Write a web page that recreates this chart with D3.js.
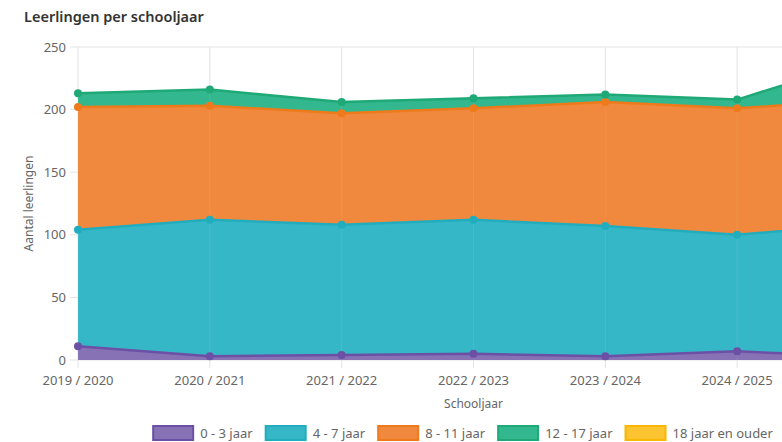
<!DOCTYPE html>
<html>
<head>
<meta charset="utf-8">
<script src="https://cdn.jsdelivr.net/npm/d3@7"></script>
<style>
  html, body { margin: 0; padding: 0; overflow: hidden; background: #fff; }
  text { font-family: "Noto Sans", "Open Sans", sans-serif; }
</style>
</head>
<body>
<script>
// schooljaren (the last one falls outside the window in the original)
let jaren = ["2019 / 2020", "2020 / 2021", "2021 / 2022", "2022 / 2023", "2023 / 2024", "2024 / 2025", "2025 / 2026"];

let groepen = ["0 - 3 jaar", "4 - 7 jaar", "8 - 11 jaar", "12 - 17 jaar", "18 jaar en ouder"];

// aantal leerlingen per leeftijdsgroep
let jaar0tot3 = [11, 3, 4, 5, 3, 7, 2];
let jaar4tot7 = [93, 109, 104, 107, 104, 93, 107];
let jaar8tot11 = [98, 91, 89, 89, 99, 101, 99];
let jaar12tot17 = [11, 13, 9, 8, 6, 7, 33];
let jaar18plus = [0, 0, 0, 0, 0, 0, 0];

let yTicks = [0, 50, 100, 150, 200, 250];

let fillKleuren = ["#8672b4", "#36b7c7", "#f0893d", "#33b78f", "#fcc431"];
let lijnKleuren = ["#6c50a5", "#22adbe", "#ee7a1c", "#1ea976", "#f8b700"];

let width = 925;
let height = 442;
let marges = { top: 47, right: 56, bottom: 82, left: 78 };

let svg = d3.select("body").append("svg")
    .attr("width", width)
    .attr("height", height);

// titel
svg.append("text")
    .attr("x", 24)
    .attr("y", 22)
    .style("font-size", "14.5px")
    .style("font-weight", 600)
    .style("fill", "#333")
    .text("Leerlingen per schooljaar");

let tabel = jaren.map((j, i) => ({
    jaar: j,
    "0 - 3 jaar": jaar0tot3[i],
    "4 - 7 jaar": jaar4tot7[i],
    "8 - 11 jaar": jaar8tot11[i],
    "12 - 17 jaar": jaar12tot17[i],
    "18 jaar en ouder": jaar18plus[i]
}));

let x = d3.scalePoint()
    .domain(jaren)
    .range([marges.left, width - marges.right]);

let y = d3.scaleLinear()
    .domain([0, 250])
    .range([height - marges.bottom, marges.top]);

// rasterlijnen
function tekenRaster(g, alleenVerticaal) {
    if (!alleenVerticaal) {
        g.selectAll("line.h")
            .data(yTicks)
            .enter()
            .append("line")
            .attr("class", "h")
            .attr("x1", marges.left - 8)
            .attr("x2", width - marges.right)
            .attr("y1", d => y(d))
            .attr("y2", d => y(d))
            .attr("stroke", "#e4e4e4");
    }
    g.selectAll("line.v")
        .data(jaren)
        .enter()
        .append("line")
        .attr("class", "v")
        .attr("x1", d => x(d))
        .attr("x2", d => x(d))
        .attr("y1", marges.top)
        .attr("y2", height - marges.bottom + 8)
        .attr("stroke", "#e4e4e4");
}
tekenRaster(svg.append("g"), false);

let stapels = d3.stack().keys(groepen)(tabel);

let vlak = d3.area()
    .x(d => x(d.data.jaar))
    .y0(d => y(d[0]))
    .y1(d => y(d[1]));

let lijn = d3.line()
    .x(d => x(d.data.jaar))
    .y(d => y(d[1]));

svg.append("g")
    .selectAll("path")
    .data(stapels)
    .enter()
    .append("path")
    .attr("d", vlak)
    .attr("fill", (d, i) => fillKleuren[i]);

// raster schemert licht door de vlakken
tekenRaster(svg.append("g").attr("opacity", 0.1), true);

// lijnen en punten, de lege groep 18+ heeft geen lijn
let zichtbaar = stapels.filter((s, i) => i < 4);

svg.append("g")
    .selectAll("path")
    .data(zichtbaar)
    .enter()
    .append("path")
    .attr("d", lijn)
    .attr("fill", "none")
    .attr("stroke", (d, i) => lijnKleuren[i])
    .attr("stroke-width", 2.5);

zichtbaar.forEach(function(s, i) {
    svg.append("g")
        .selectAll("circle")
        .data(s)
        .enter()
        .append("circle")
        .attr("cx", d => x(d.data.jaar))
        .attr("cy", d => y(d[1]))
        .attr("r", 4)
        .attr("fill", lijnKleuren[i]);
});

// assen
svg.append("g")
    .selectAll("text")
    .data(yTicks)
    .enter()
    .append("text")
    .attr("x", marges.left - 12)
    .attr("y", d => y(d))
    .attr("dy", "0.35em")
    .attr("text-anchor", "end")
    .style("font-size", "13px")
    .style("fill", "#666")
    .text(d => d);

svg.append("g")
    .selectAll("text")
    .data(jaren)
    .enter()
    .append("text")
    .attr("x", d => x(d))
    .attr("y", height - marges.bottom + 25)
    .attr("text-anchor", "middle")
    .style("font-size", "13px")
    .style("fill", "#666")
    .text(d => d);

svg.append("text")
    .attr("x", (marges.left + width - marges.right) / 2)
    .attr("y", height - marges.bottom + 48)
    .attr("text-anchor", "middle")
    .style("font-size", "12px")
    .style("fill", "#666")
    .text("Schooljaar");

svg.append("text")
    .attr("transform", "translate(33," + ((marges.top + height - marges.bottom) / 2) + ") rotate(-90)")
    .attr("text-anchor", "middle")
    .style("font-size", "12px")
    .style("fill", "#666")
    .text("Aantal leerlingen");

// legenda
let legenda = svg.append("g");
let items = legenda.selectAll("g")
    .data(groepen)
    .enter()
    .append("g");

items.append("rect")
    .attr("x", 1)
    .attr("y", 426)
    .attr("width", 40)
    .attr("height", 14)
    .attr("fill", (d, i) => fillKleuren[i])
    .attr("stroke", (d, i) => lijnKleuren[i])
    .attr("stroke-width", 2);

items.append("text")
    .attr("x", 48)
    .attr("y", 433)
    .attr("dy", "0.35em")
    .style("font-size", "13px")
    .style("fill", "#666")
    .text(d => d);

let breedtes = [];
items.each(function() {
    breedtes.push(48 + d3.select(this).select("text").node().getComputedTextLength());
});
let totaal = d3.sum(breedtes) + 12 * (breedtes.length - 1);
let pos = width / 2 - totaal / 2;
items.attr("transform", function(d, i) {
    let t = "translate(" + pos + ",0)";
    pos += breedtes[i] + 12;
    return t;
});
</script>
</body>
</html>
